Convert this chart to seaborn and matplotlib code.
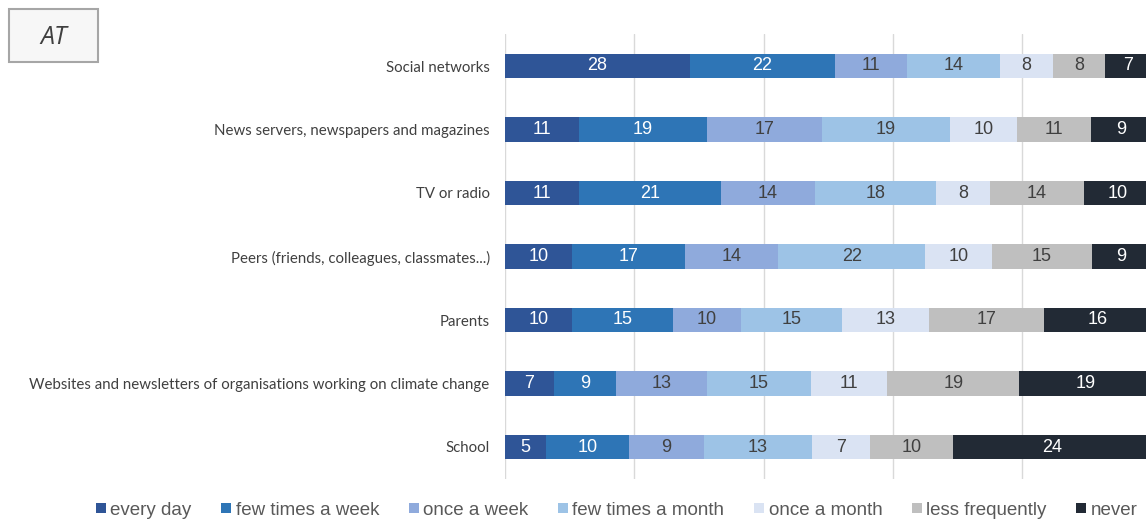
import numpy as np
import matplotlib
matplotlib.use("Agg")
import matplotlib.pyplot as plt
from matplotlib.lines import Line2D
from matplotlib.patches import Rectangle
import seaborn as sns

# Information sources (rows, top to bottom)
sources = [
    "Social networks",
    "News servers, newspapers and magazines",
    "TV or radio",
    "Peers (friends, colleagues, classmates...)",
    "Parents",
    "Websites and newsletters of organisations working on climate change",
    "School",
]

# Frequency categories (stack order, left to right)
frequencies = ["every day", "few times a week", "once a week", "few times a month",
               "once a month", "less frequently", "never"]

# Percent of respondents per source and frequency
every_day = [28, 11, 11, 10, 10, 7, 5]
few_times_a_week = [22, 19, 21, 17, 15, 9, 10]
once_a_week = [11, 17, 14, 14, 10, 13, 9]
few_times_a_month = [14, 19, 18, 22, 15, 15, 13]
once_a_month = [8, 10, 8, 10, 13, 11, 7]
less_frequently = [8, 11, 14, 15, 17, 19, 10]
never = [7, 9, 10, 9, 16, 19, 24]

colors = ["#2f5597", "#2e75b6", "#8faadc", "#9dc3e6", "#dae3f3", "#bfbfbf", "#222a35"]
label_colors = ["white", "white", "#404040", "#404040", "#404040", "#404040", "white"]

values = np.array([every_day, few_times_a_week, once_a_week, few_times_a_month,
                   once_a_month, less_frequently, never], dtype=float).T
# Each row is shown as a 100 % stacked bar
shares = values / values.sum(axis=1, keepdims=True) * 100
cum = shares.cumsum(axis=1)

sns.set_theme(style="white")
plt.rcParams["font.family"] = ["Liberation Sans", "DejaVu Sans"]

W, H = 1146, 520
fig = plt.figure(figsize=(W / 100, H / 100), dpi=100)
fig.patch.set_facecolor("white")

ax_left, ax_right = 505, 1151.6
ax_top, ax_bottom = 34.25, 478.75
ax = fig.add_axes([ax_left / W, 1 - ax_bottom / H,
                   (ax_right - ax_left) / W, (ax_bottom - ax_top) / H])

# Draw cumulative totals from the widest layer down so each segment shows
for j in reversed(range(len(frequencies))):
    sns.barplot(x=cum[:, j], y=sources, orient="h", color=colors[j],
                saturation=1, width=0.39, linewidth=0, errorbar=None, ax=ax)

for i in range(len(sources)):
    for j in range(len(frequencies)):
        center = cum[i, j] - shares[i, j] / 2
        ax.text(center, i, f"{int(values[i, j])}", ha="center", va="center",
                color=label_colors[j], fontsize=13, family="Liberation Sans")

ax.set_xlim(0, 100)
ax.set_ylim(len(sources) - 0.5, -0.5)
ax.set_xticks([0, 20, 40, 60, 80, 100])
ax.set_xticklabels([])
ax.set_xlabel("")
ax.set_ylabel("")
ax.xaxis.grid(True, color="#d9d9d9", linewidth=1)
ax.yaxis.grid(False)
ax.set_axisbelow(True)
for s in ax.spines.values():
    s.set_visible(False)
ax.tick_params(axis="both", length=0)
ax.tick_params(axis="y", pad=11)
ax.set_yticks(range(len(sources)))
ax.set_yticklabels(sources, fontsize=10.8, color="#404040", family="Lato")

# Country tag in the upper-left corner
fig.add_artist(Rectangle((9 / W, 1 - 62 / H), 89 / W, 53 / H, transform=fig.transFigure,
                         facecolor="#f7f7f7", edgecolor="#a6a6a6", linewidth=1.5))
fig.text(53.5 / W, 1 - 37 / H, "AT", ha="center", va="center", fontsize=18,
         style="italic", color="#404040", family="Open Sans")

handles = [Line2D([], [], marker="s", linestyle="", markersize=7,
                  markerfacecolor=c, markeredgewidth=0) for c in colors]
fig.legend(handles, frequencies, loc="center", bbox_to_anchor=(616 / W, 1 - 510 / H),
           ncol=7, frameon=False, fontsize=13.5, handletextpad=0.15,
           columnspacing=1.5, handlelength=0.7, labelcolor="#595959")

fig.savefig("out.png", dpi=100, facecolor="white")
